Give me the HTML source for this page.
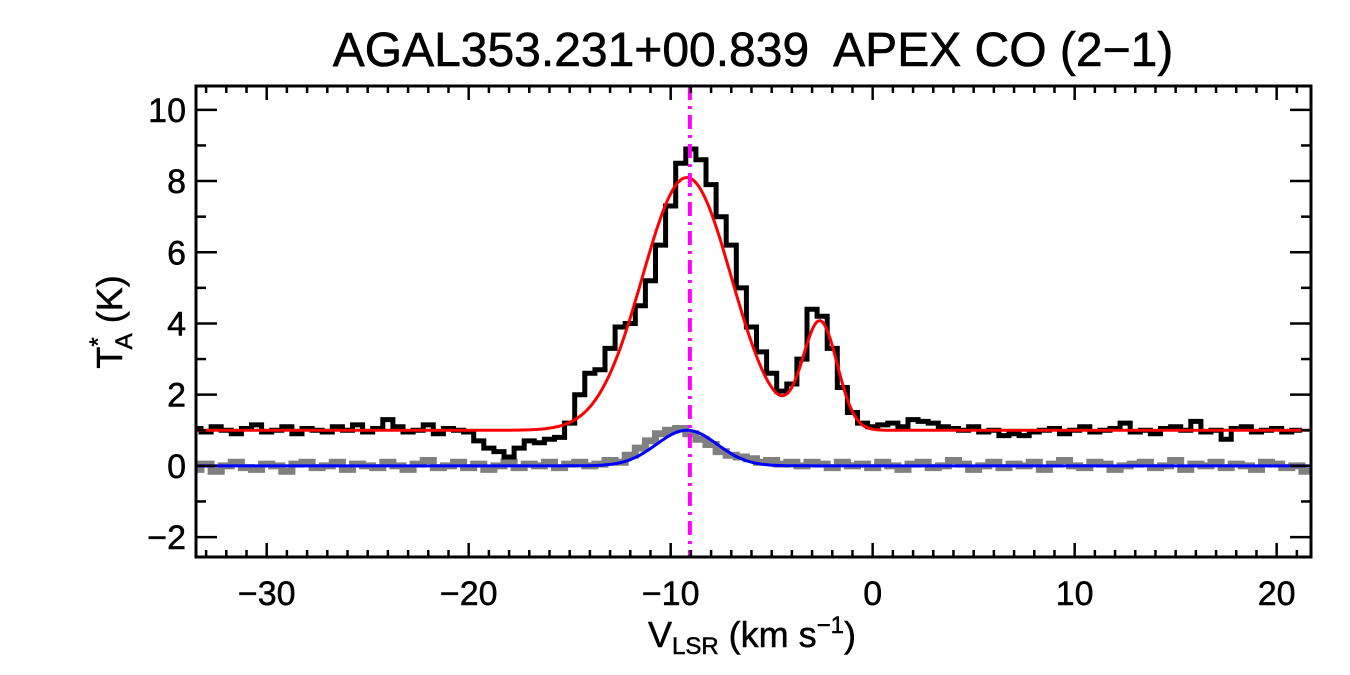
<!DOCTYPE html>
<html><head><meta charset="utf-8"><style>
html,body{margin:0;padding:0;background:#fff;}
svg{display:block;font-family:"Liberation Sans",Arial,sans-serif;}
</style></head><body>
<svg id="chart" width="1350" height="675" viewBox="0 0 1350 675">
<text x="753" y="66" font-size="48" text-anchor="middle" stroke="#000" stroke-width="0.6" xml:space="preserve">AGAL353.231+00.839  APEX CO (2−1)</text>
<g id="plot"></g>
<g id="axes"></g>
<text x="752" y="647" font-size="36" text-anchor="middle" stroke="#000" stroke-width="0.5">V<tspan font-size="24" dy="7">LSR</tspan><tspan dy="-7"> (km s</tspan><tspan font-size="24" dy="-14">−1</tspan><tspan dy="14">)</tspan></text>
<text transform="translate(122,322) rotate(-90)" font-size="36" text-anchor="middle" stroke="#000" stroke-width="0.5">T<tspan font-size="24" dy="-16">*</tspan><tspan font-size="24" dx="-12" dy="26">A</tspan><tspan dy="-10"> (K)</tspan></text>
</svg>
<script>
const vStart = -33.5, vStep = 0.5;
const blackSpec = [1.05,0.95,1.1,1.0,0.9,1.05,1.15,0.95,1.0,1.1,0.9,1.05,1.0,0.95,1.1,1.0,1.15,0.95,1.05,1.3,1.1,0.95,1.0,1.15,0.9,1.05,1.0,0.95,
0.7,0.5,0.4,0.25,0.5,0.7,0.65,0.75,0.8,1.2,2.0,2.6,2.7,3.3,3.9,4.0,4.5,5.2,6.2,7.3,8.5,8.9,8.6,7.9,7.0,6.2,5.0,3.9,3.2,2.6,2.1,2.3,3.0,4.4,4.2,3.3,2.2,1.5,1.2,1.1,1.15,1.2,1.1,1.3,1.25,1.2,1.1,1.05,1.0,1.1,0.95,1.0,0.85,0.9,0.85,0.95,1.0,1.05,0.9,1.0,1.1,0.95,1.0,1.05,1.2,0.95,1.0,0.9,1.05,1.1,1.0,1.25,0.95,1.0,0.75,1.05,1.1,0.95,1.0,1.05,0.95,1.0];
const graySpec = [-0.1,0.05,-0.15,0.0,0.1,-0.05,-0.1,0.05,0.0,-0.15,0.05,0.1,-0.05,0.0,0.1,-0.1,0.05,0.0,-0.05,0.1,0.0,-0.1,0.05,0.15,-0.05,0.0,0.1,-0.05,
0.05,-0.1,0.0,0.1,-0.05,0.05,0.0,0.1,-0.05,0.05,0.1,0.0,0.05,0.15,0.1,0.3,0.5,0.7,0.9,1.0,1.05,0.9,0.75,0.6,0.4,0.3,0.25,0.2,0.1,0.15,0.05,0.1,0.0,0.1,0.05,-0.05,0.1,0.0,0.05,-0.05,0.1,0.0,-0.1,0.05,0.1,-0.05,0.0,0.15,0.05,-0.1,0.0,0.1,-0.05,0.05,0.0,0.1,-0.1,0.05,0.15,0.0,-0.05,0.1,0.05,-0.1,0.0,0.05,0.1,-0.05,0.0,0.15,-0.1,0.05,0.0,0.1,-0.05,0.05,0.0,-0.1,0.1,0.05,-0.05,0.0,-0.15];
const redBase = [1.0];
const redAmps = [7.1, 3.0];
const redCenters = [-9.2, -2.6];
const redSigmas = [2.2, 0.85];
const blueAmps = [1.0];
const blueCenters = [-9.2];
const blueSigmas = [1.5];
const markerV = [-9.05];
const xTicks = [-30,-20,-10,0,10,20];
const yTicks = [-2,0,2,4,6,8,10];

const L=196,R=1311,T=86,B=557, xmin=-33.5,xmax=21.7,ymin=-2.56,ymax=10.67;
const X=v=>L+(v-xmin)/(xmax-xmin)*(R-L);
const Y=t=>B-(t-ymin)/(ymax-ymin)*(B-T);
const NS='http://www.w3.org/2000/svg';
const plot=document.getElementById('plot'), axes=document.getElementById('axes');
function mk(tag,attrs,parent){const e=document.createElementNS(NS,tag);for(const k in attrs)e.setAttribute(k,attrs[k]);parent.appendChild(e);return e;}
const clip=mk('clipPath',{id:'cp'},plot);mk('rect',{x:L,y:T,width:R-L,height:B-T},clip);
const g=mk('g',{'clip-path':'url(#cp)'},plot);
function steps(arr){let d='';arr.forEach((t,i)=>{const x0=X(vStart+i*vStep-vStep/2),x1=X(vStart+i*vStep+vStep/2);d+=(i?'L':'M')+x0.toFixed(1)+','+Y(t).toFixed(1)+'L'+x1.toFixed(1)+','+Y(t).toFixed(1);});return d;}
function gauss(base,A,C,S){let d='';for(let v=xmin;v<=xmax;v+=0.1){let t=base;A.forEach((a,i)=>t+=a*Math.exp(-0.5*((v-C[i])/S[i])**2));d+=(d?'L':'M')+X(v).toFixed(1)+','+Y(t).toFixed(1);}return d;}
let e;
e=mk('path',{d:steps(graySpec),fill:'none',stroke:'#808080','stroke-width':7},g);


e=mk('path',{d:steps(blackSpec),fill:'none',stroke:'#000','stroke-width':5},g);


e=mk('path',{d:gauss(redBase[0],redAmps,redCenters,redSigmas),fill:'none',stroke:'#ff0000','stroke-width':3},g);


e=mk('path',{d:gauss(0,blueAmps,blueCenters,blueSigmas),fill:'none',stroke:'#0000ff','stroke-width':3},g);


e=mk('line',{x1:X(markerV[0]),x2:X(markerV[0]),y1:T,y2:B,stroke:'#ff00ff','stroke-width':4,'stroke-dasharray':'14,6,3,6'},g);


e=mk('rect',{x:L,y:T,width:R-L,height:B-T,fill:'none',stroke:'#000','stroke-width':3},axes);


for(let v=-33;v<=21;v++){const maj=v%10===0;const len=maj?14:7;
 mk('line',{x1:X(v),x2:X(v),y1:B,y2:B-len,stroke:'#000','stroke-width':2.5},axes);
 mk('line',{x1:X(v),x2:X(v),y1:T,y2:T+len,stroke:'#000','stroke-width':2.5},axes);}
for(let t=-2;t<=10;t++){const len=t%2===0?21:10;
 mk('line',{x1:L,x2:L+len,y1:Y(t),y2:Y(t),stroke:'#000','stroke-width':2.5},axes);
 mk('line',{x1:R,x2:R-len,y1:Y(t),y2:Y(t),stroke:'#000','stroke-width':2.5},axes);}
xTicks.forEach(v=>{const t=mk('text',{x:X(v),y:605,'font-size':34,'text-anchor':'middle',stroke:'#000','stroke-width':0.5},axes);t.textContent=(v<0?'−':'')+Math.abs(v);

});
yTicks.forEach(v=>{const t=mk('text',{x:186,y:Y(v)+12,'font-size':34,'text-anchor':'end',stroke:'#000','stroke-width':0.5},axes);t.textContent=(v<0?'−':'')+Math.abs(v);

});
</script>
</body></html>
